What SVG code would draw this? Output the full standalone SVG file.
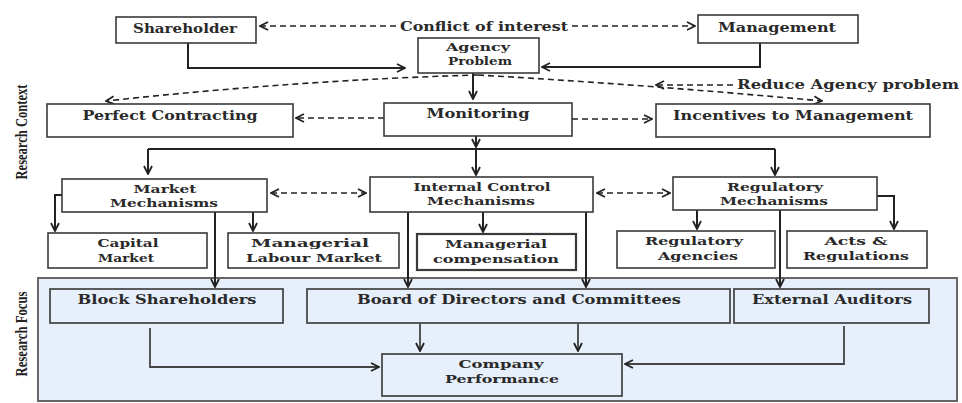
<svg xmlns="http://www.w3.org/2000/svg" width="962" height="403" viewBox="0 0 962 403">
<style>
.box{fill:#fff;stroke:#3a3a3a;stroke-width:1.6}
.fbox{fill:none;stroke:#4a4a4a;stroke-width:1.8}
.panel{fill:#e7f0fa;stroke:#666;stroke-width:2}
.t{font-family:"DejaVu Serif","Liberation Serif",serif;font-weight:bold;font-size:12.5px;fill:#2a2a2a;text-anchor:middle}
.t2{font-size:11.5px}
.side{font-family:"Liberation Serif",serif;font-weight:bold;font-size:17px;fill:#222;text-anchor:middle}
.ln{stroke:#222;stroke-width:2;fill:none}
.ln2{stroke:#444;stroke-width:1.8;fill:none}
.dl{stroke:#222;stroke-width:1.6;fill:none;stroke-dasharray:6 4}
</style>
<defs>
<marker id="ah" viewBox="0 0 10 10" refX="9" refY="5" markerWidth="10" markerHeight="10" markerUnits="userSpaceOnUse" orient="auto-start-reverse">
<path d="M1,1 L9,5 L1,9" fill="none" stroke="#222" stroke-width="1.8"/>
</marker>
</defs>

<rect id="research-focus-panel" class="panel" x="38" y="278" width="919" height="123"/>
<text class="side" transform="translate(27,132) rotate(-90)" textLength="95" lengthAdjust="spacingAndGlyphs">Research Context</text>
<text class="side" transform="translate(27,334) rotate(-90)" textLength="85" lengthAdjust="spacingAndGlyphs">Research Focus</text>

<g id="connectors">
<path class="ln" d="M188,43 V68 H405" marker-end="url(#ah)"/>
<path class="ln" d="M760,43 V67 H542" marker-end="url(#ah)"/>
<path class="dl" d="M396,26 H260" marker-end="url(#ah)"/>
<path class="dl" d="M572,26 H695" marker-end="url(#ah)"/>
<path class="ln" d="M473,73 V99" marker-end="url(#ah)"/>
<path class="dl" d="M478,75 Q300,80 106,101" marker-end="url(#ah)"/>
<path class="dl" d="M478,75 Q650,85 822,101" marker-end="url(#ah)"/>
<path class="dl" d="M733,85 H656" marker-end="url(#ah)"/>
<path class="dl" d="M384,118 H296" marker-end="url(#ah)"/>
<path class="dl" d="M572,119 H652" marker-end="url(#ah)"/>
<path class="ln" d="M476,136 V147" marker-end="url(#ah)"/>
<path class="ln" d="M148,149 H775"/>
<path class="ln" d="M148,149 V174" marker-end="url(#ah)"/>
<path class="ln" d="M476,149 V175" marker-end="url(#ah)"/>
<path class="ln" d="M775,149 V175" marker-end="url(#ah)"/>
<path class="dl" d="M271,193 H366" marker-start="url(#ah)" marker-end="url(#ah)"/>
<path class="dl" d="M597,193 H670" marker-start="url(#ah)" marker-end="url(#ah)"/>
<path class="ln" d="M62,195 H55 V231" marker-end="url(#ah)"/>
<path class="ln" d="M253,212 V231" marker-end="url(#ah)"/>
<path class="ln" d="M215,212 V287" marker-end="url(#ah)"/>
<path class="ln" d="M483,212 V232" marker-end="url(#ah)"/>
<path class="ln" d="M408,212 V287" marker-end="url(#ah)"/>
<path class="ln" d="M586,212 V287" marker-end="url(#ah)"/>
<path class="ln" d="M697,210 V229" marker-end="url(#ah)"/>
<path class="ln" d="M877,196 H894 V229" marker-end="url(#ah)"/>
<path class="ln" d="M780,210 V287" marker-end="url(#ah)"/>
<path class="ln2" d="M420,323 V351" marker-end="url(#ah)"/>
<path class="ln2" d="M578,323 V351" marker-end="url(#ah)"/>
<path class="ln2" d="M150,328 V367 H379" marker-end="url(#ah)"/>
<path class="ln2" d="M844,326 V364 H625" marker-end="url(#ah)"/>
</g>

<g id="shareholder"><rect class="box" x="116" y="17" width="140" height="26"/><text class="t" x="185" y="33" textLength="104" lengthAdjust="spacingAndGlyphs">Shareholder</text></g>
<g id="conflict-label"><text class="t" x="484" y="31" textLength="168" lengthAdjust="spacingAndGlyphs">Conflict of interest</text></g>
<g id="management"><rect class="box" x="698" y="15" width="160" height="28"/><text class="t" x="777" y="32" textLength="118" lengthAdjust="spacingAndGlyphs">Management</text></g>
<g id="agency-problem"><rect class="box" x="418" y="38" width="121" height="35"/><text class="t t2" x="478" y="51" textLength="64" lengthAdjust="spacingAndGlyphs">Agency</text><text class="t t2" x="480" y="65" textLength="64" lengthAdjust="spacingAndGlyphs">Problem</text></g>
<g id="reduce-label"><text class="t" x="848" y="89" textLength="222" lengthAdjust="spacingAndGlyphs">Reduce Agency problem</text></g>
<g id="perfect-contracting"><rect class="box" x="47" y="104" width="246" height="33"/><text class="t" x="170" y="120" textLength="175" lengthAdjust="spacingAndGlyphs">Perfect Contracting</text></g>
<g id="monitoring"><rect class="box" x="384" y="103" width="188" height="33"/><text class="t" x="478" y="118" textLength="103" lengthAdjust="spacingAndGlyphs">Monitoring</text></g>
<g id="incentives"><rect class="box" x="656" y="104" width="274" height="33"/><text class="t" x="793" y="120" textLength="240" lengthAdjust="spacingAndGlyphs">Incentives to Management</text></g>
<g id="market-mechanisms"><rect class="box" x="62" y="179" width="205" height="33"/><text class="t t2" x="165" y="193" textLength="63" lengthAdjust="spacingAndGlyphs">Market</text><text class="t t2" x="164" y="207" textLength="108" lengthAdjust="spacingAndGlyphs">Mechanisms</text></g>
<g id="internal-control"><rect class="box" x="370" y="177" width="223" height="35"/><text class="t t2" x="482" y="191" textLength="137" lengthAdjust="spacingAndGlyphs">Internal Control</text><text class="t t2" x="481" y="205" textLength="108" lengthAdjust="spacingAndGlyphs">Mechanisms</text></g>
<g id="regulatory-mechanisms"><rect class="box" x="673" y="177" width="204" height="33"/><text class="t t2" x="775" y="191" textLength="96" lengthAdjust="spacingAndGlyphs">Regulatory</text><text class="t t2" x="774" y="205" textLength="108" lengthAdjust="spacingAndGlyphs">Mechanisms</text></g>
<g id="capital-market"><rect class="box" x="48" y="233" width="159" height="35"/><text class="t t2" x="128" y="247" textLength="61" lengthAdjust="spacingAndGlyphs">Capital</text><text class="t t2" x="126" y="262" textLength="56" lengthAdjust="spacingAndGlyphs">Market</text></g>
<g id="managerial-labour-market"><rect class="box" x="228" y="233" width="171" height="35"/><text class="t t2" x="310" y="247" textLength="118" lengthAdjust="spacingAndGlyphs">Managerial</text><text class="t t2" x="314" y="262" textLength="136" lengthAdjust="spacingAndGlyphs">Labour Market</text></g>
<g id="managerial-compensation"><rect class="box" x="417" y="234" width="159" height="36" style="stroke-width:2.2"/><text class="t t2" x="496" y="248" textLength="102" lengthAdjust="spacingAndGlyphs">Managerial</text><text class="t t2" x="496" y="263" textLength="126" lengthAdjust="spacingAndGlyphs">compensation</text></g>
<g id="regulatory-agencies"><rect class="box" x="617" y="231" width="158" height="37"/><text class="t t2" x="694" y="245" textLength="98" lengthAdjust="spacingAndGlyphs">Regulatory</text><text class="t t2" x="698" y="260" textLength="80" lengthAdjust="spacingAndGlyphs">Agencies</text></g>
<g id="acts-regulations"><rect class="box" x="787" y="231" width="140" height="37"/><text class="t t2" x="856" y="245" textLength="63" lengthAdjust="spacingAndGlyphs">Acts &amp;</text><text class="t t2" x="856" y="260" textLength="106" lengthAdjust="spacingAndGlyphs">Regulations</text></g>
<g id="block-shareholders"><rect class="fbox" x="50" y="289" width="233" height="34"/><text class="t" x="167" y="304" textLength="179" lengthAdjust="spacingAndGlyphs">Block Shareholders</text></g>
<g id="board"><rect class="fbox" x="307" y="289" width="423" height="34"/><text class="t" x="519" y="304" textLength="324" lengthAdjust="spacingAndGlyphs">Board of Directors and Committees</text></g>
<g id="external-auditors"><rect class="fbox" x="734" y="289" width="195" height="34"/><text class="t" x="832" y="304" textLength="160" lengthAdjust="spacingAndGlyphs">External Auditors</text></g>
<g id="company-performance"><rect class="fbox" x="382" y="354" width="240" height="42"/><text class="t t2" x="501" y="368" textLength="85" lengthAdjust="spacingAndGlyphs">Company</text><text class="t t2" x="502" y="383" textLength="114" lengthAdjust="spacingAndGlyphs">Performance</text></g>
</svg>
